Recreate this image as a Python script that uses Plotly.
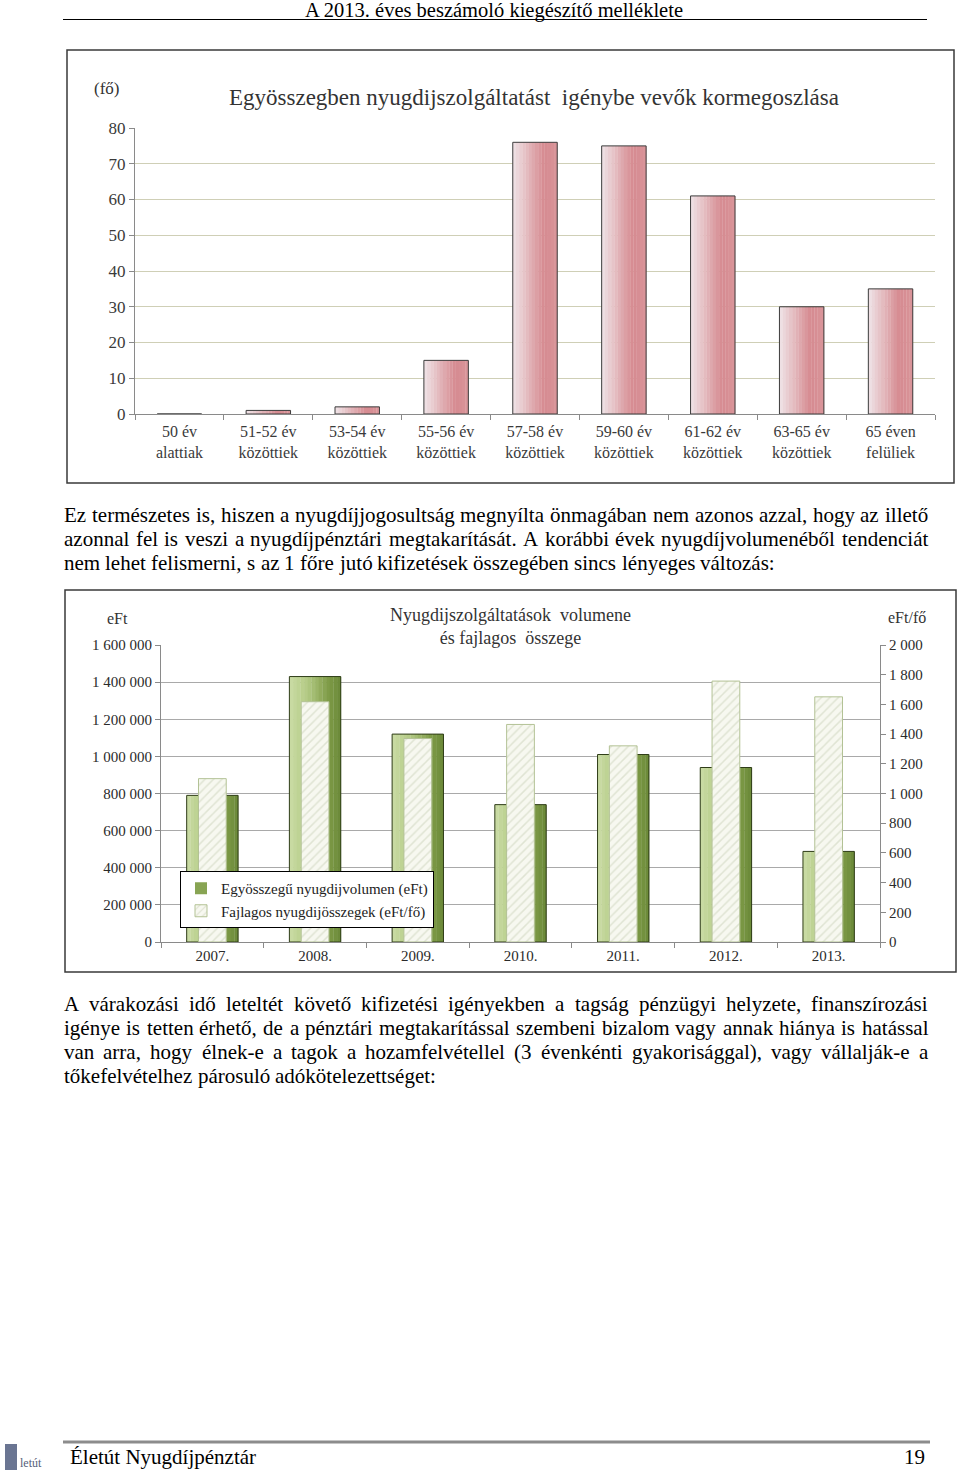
import plotly.graph_objects as go

W, H = 960, 1480
SERIF = "Liberation Serif, Times New Roman, serif"


def X(px):
    return px / W


def Y(py):
    return 1 - py / H


# ---------------- data ----------------
age_groups = ["50 év<br>alattiak", "51-52 év<br>közöttiek", "53-54 év<br>közöttiek",
              "55-56 év<br>közöttiek", "57-58 év<br>közöttiek", "59-60 év<br>közöttiek",
              "61-62 év<br>közöttiek", "63-65 év<br>közöttiek", "65 éven<br>felüliek"]
persons = [0, 1, 2, 15, 76, 75, 61, 30, 35]
chart1_title = "Egyösszegben nyugdijszolgáltatást  igénybe vevők kormegoszlása"
chart1_unit = "(fő)"

years = ["2007.", "2008.", "2009.", "2010.", "2011.", "2012.", "2013."]
volume_eft = [790000, 1430000, 1120000, 740000, 1010000, 940000, 488000]
per_capita_eft = [1100, 1618, 1370, 1465, 1321, 1757, 1651]
chart2_title = "Nyugdijszolgáltatások  volumene<br>és fajlagos  összege"
volume_name = "Egyösszegű nyugdijvolumen (eFt)"
per_capita_name = "Fajlagos nyugdijösszegek (eFt/fő)"

header_text = "A 2013. éves beszámoló kiegészítő melléklete"
footer_text = "Életút Nyugdíjpénztár"
page_number = "19"

paragraph1 = [
    "Ez természetes is, hiszen a nyugdíjjogosultság megnyílta önmagában nem azonos azzal, hogy az illető",
    "azonnal fel is veszi a nyugdíjpénztári megtakarítását. A korábbi évek nyugdíjvolumenéből tendenciát",
    "nem lehet felismerni, s az 1 főre jutó kifizetések összegében sincs lényeges változás:",
]
paragraph2 = [
    "A várakozási idő leteltét követő kifizetési igényekben a tagság pénzügyi helyzete, finanszírozási",
    "igénye is tetten érhető, de a pénztári megtakarítással szembeni bizalom vagy annak hiánya is hatással",
    "van arra, hogy élnek-e a tagok a hozamfelvétellel (3 évenkénti gyakorisággal), vagy vállalják-e a",
    "tőkefelvételhez párosuló adókötelezettséget:",
]

# ---------------- helpers ----------------
TIMES = {' ': 250, 'a': 444, 'b': 500, 'c': 444, 'd': 500, 'e': 444, 'f': 333, 'g': 500,
         'h': 500, 'i': 278, 'j': 278, 'k': 500, 'l': 278, 'm': 778, 'n': 500, 'o': 500,
         'p': 500, 'q': 500, 'r': 333, 's': 389, 't': 278, 'u': 500, 'v': 500, 'w': 722,
         'x': 500, 'y': 500, 'z': 444, 'A': 722, 'E': 611, 'N': 722, ',': 250, '.': 250,
         ':': 278, '(': 333, ')': 333, '-': 333}
ACC = {'á': 'a', 'é': 'e', 'í': 'i', 'ó': 'o', 'ö': 'o', 'ő': 'o', 'ú': 'u', 'ü': 'u',
       'ű': 'u', 'É': 'E'}


def text_w(s, size):
    tot = 0
    for ch in s:
        ch = ACC.get(ch, ch)
        if ch.isdigit():
            tot += 500
        else:
            tot += TIMES.get(ch, 500)
    return tot * size / 1000.0


def blend(c1, c2, t):
    a = [int(c1[i:i + 2], 16) for i in (1, 3, 5)]
    b = [int(c2[i:i + 2], 16) for i in (1, 3, 5)]
    return "#%02x%02x%02x" % tuple(round(a[k] + (b[k] - a[k]) * t) for k in range(3))


def grad(stops, t):
    for (p0, c0), (p1, c1) in zip(stops, stops[1:]):
        if p0 <= t <= p1:
            return blend(c0, c1, (t - p0) / (p1 - p0) if p1 > p0 else 0)
    return stops[-1][1]


fig = go.Figure()

# ---------------- chart 1 (gradient bars) ----------------
w1 = 0.5
n1 = 14
stops1 = [(0, "#efe4e7"), (0.7, "#d68a90"), (1, "#d9959a")]
for i in range(n1):
    fig.add_bar(x=age_groups, y=persons, xaxis="x", yaxis="y",
                width=w1 / n1 * 1.08, offset=-w1 / 2 + i * w1 / n1,
                marker=dict(color=grad(stops1, (i + 0.5) / n1), line=dict(width=0)),
                showlegend=False, hoverinfo="skip")
fig.add_bar(x=age_groups, y=persons, xaxis="x", yaxis="y", width=w1, offset=-w1 / 2,
            marker=dict(color="rgba(0,0,0,0)", line=dict(color="#3c3c3c", width=1)),
            showlegend=False, hoverinfo="skip")

# ---------------- chart 2 ----------------
w2 = 0.5
n2 = 14
stops2 = [(0, "#cadca5"), (0.35, "#b3ca84"), (0.75, "#7f9c48"), (1, "#6a8838")]
for i in range(n2):
    fig.add_bar(x=years, y=volume_eft, xaxis="x2", yaxis="y2",
                width=w2 / n2 * 1.08, offset=-w2 / 2 + i * w2 / n2,
                marker=dict(color=grad(stops2, (i + 0.5) / n2), line=dict(width=0)),
                name=volume_name, showlegend=(i == 9), hoverinfo="skip")
fig.add_bar(x=years, y=volume_eft, xaxis="x2", yaxis="y2", width=w2, offset=-w2 / 2,
            marker=dict(color="rgba(0,0,0,0)", line=dict(color="#2e3c17", width=1)),
            showlegend=False, hoverinfo="skip")
w3 = 0.27
fig.add_bar(x=years, y=per_capita_eft, xaxis="x2", yaxis="y3", width=w3, offset=-w3 / 2,
            name=per_capita_name,
            marker=dict(color="#f7f8f0", line=dict(color="#b3c295", width=1),
                        pattern=dict(shape="/", fgcolor="#c8cfb6", bgcolor="#f7f8f0",
                                     size=6, solidity=0.25)),
            hoverinfo="skip")

tick_font1 = dict(family=SERIF, size=16, color="#3a3a3a")
axis_common = dict(showline=True, linecolor="#8a8a8a", ticks="outside", ticklen=5,
                   tickcolor="#8a8a8a", zeroline=False, automargin=False)

fig.update_layout(
    width=W, height=H, margin=dict(l=0, r=0, t=0, b=0, autoexpand=False),
    paper_bgcolor="white", plot_bgcolor="rgba(0,0,0,0)",
    barmode="overlay", separators=". ",
    xaxis=dict(domain=[X(135), X(935)], anchor="y", type="category", tickson="boundaries",
               showgrid=False, tickfont=tick_font1, ticklabelstandoff=3, **axis_common),
    yaxis=dict(domain=[Y(414), Y(128)], anchor="x", range=[0, 80], dtick=10,
               showgrid=True, gridcolor="#cfcfb6", gridwidth=1,
               tickfont=dict(family=SERIF, size=17, color="#3a3a3a"), **axis_common),
    xaxis2=dict(domain=[X(161), X(880)], anchor="y2", type="category", tickson="boundaries",
                showgrid=False, tickfont=dict(family=SERIF, size=15, color="#2a2a2a"),
                **axis_common),
    yaxis2=dict(domain=[Y(942), Y(645)], anchor="x2", range=[0, 1600000], dtick=200000,
                tickformat=",", showgrid=True, gridcolor="#a9a9a9", gridwidth=1,
                tickfont=dict(family=SERIF, size=15, color="#2a2a2a"), **axis_common),
    yaxis3=dict(overlaying="y2", anchor="x2", side="right", range=[0, 2000], dtick=200,
                tickformat=",", showgrid=False,
                tickfont=dict(family=SERIF, size=15, color="#2a2a2a"), **axis_common),
    legend=dict(x=X(180), y=Y(871), xanchor="left", yanchor="top",
                bgcolor="white", bordercolor="#000000", borderwidth=1,
                font=dict(family=SERIF, size=15, color="#222222"),
                tracegroupgap=2, itemwidth=30),
)

shapes = [
    # header rule
    dict(type="line", xref="paper", yref="paper", x0=X(63), x1=X(927), y0=Y(19.5), y1=Y(19.5),
         line=dict(color="#000000", width=1)),
    # chart borders
    dict(type="rect", xref="paper", yref="paper", x0=X(67), x1=X(954), y0=Y(483), y1=Y(50),
         line=dict(color="#3a3a3a", width=1.5)),
    dict(type="rect", xref="paper", yref="paper", x0=X(65), x1=X(956), y0=Y(972), y1=Y(590),
         line=dict(color="#3a3a3a", width=1.5)),
    # footer rule
    dict(type="line", xref="paper", yref="paper", x0=X(63), x1=X(930), y0=Y(1442), y1=Y(1442),
         line=dict(color="#8c8c8c", width=3)),
    # logo mark
    dict(type="rect", xref="paper", yref="paper", x0=X(5), x1=X(17), y0=Y(1470), y1=Y(1444),
         line=dict(width=0), fillcolor="#6a7592"),
]

ann = []


def add_text(txt, x, y, size, xanchor="left", color="#000000", family=SERIF, pad=1):
    ann.append(dict(text=txt, xref="paper", yref="paper", x=X(x), y=Y(y), xanchor=xanchor,
                    yanchor="middle", showarrow=False, borderpad=pad,
                    font=dict(family=family, size=size, color=color)))


add_text(header_text, 494, 10.5, 20.5, xanchor="center", pad=0)
add_text(chart1_title, 534, 98, 23, xanchor="center", color="#333333")
add_text(chart1_unit, 106, 88, 17, xanchor="center", color="#333333")
add_text(chart2_title, 510, 626, 18, xanchor="center", color="#333333")
add_text("eFt", 117, 618, 16, xanchor="center", color="#333333")
add_text("eFt/fő", 907, 617, 16, xanchor="center", color="#333333")
add_text(footer_text, 68, 1457, 21)
add_text(page_number, 927, 1457, 21, xanchor="right")
add_text("letút", 18, 1463, 12, color="#55607a")

BODY = 21
LEFT, RIGHT = 63, 927


def add_paragraph(lines, y0, step=24):
    for li, line in enumerate(lines):
        words = line.split(" ")
        widths = [text_w(wd, BODY) for wd in words]
        last = li == len(lines) - 1
        if last or len(words) < 2:
            gap = TIMES[' '] * BODY / 1000.0
        else:
            gap = (RIGHT - LEFT - sum(widths)) / (len(words) - 1)
            gap = max(gap, 0.6 * TIMES[' '] * BODY / 1000.0)
        x = LEFT
        for wd, ww in zip(words, widths):
            add_text(wd, x - 1, y0 + li * step + 1, BODY)
            x += ww + gap


add_paragraph(paragraph1, 514)
add_paragraph(paragraph2, 1003)

fig.update_layout(shapes=shapes, annotations=ann)
fig.write_html(
    "out.html",
    config={"displayModeBar": False},
    post_script="document.body.style.margin='0';document.body.style.overflow='hidden';",
)
